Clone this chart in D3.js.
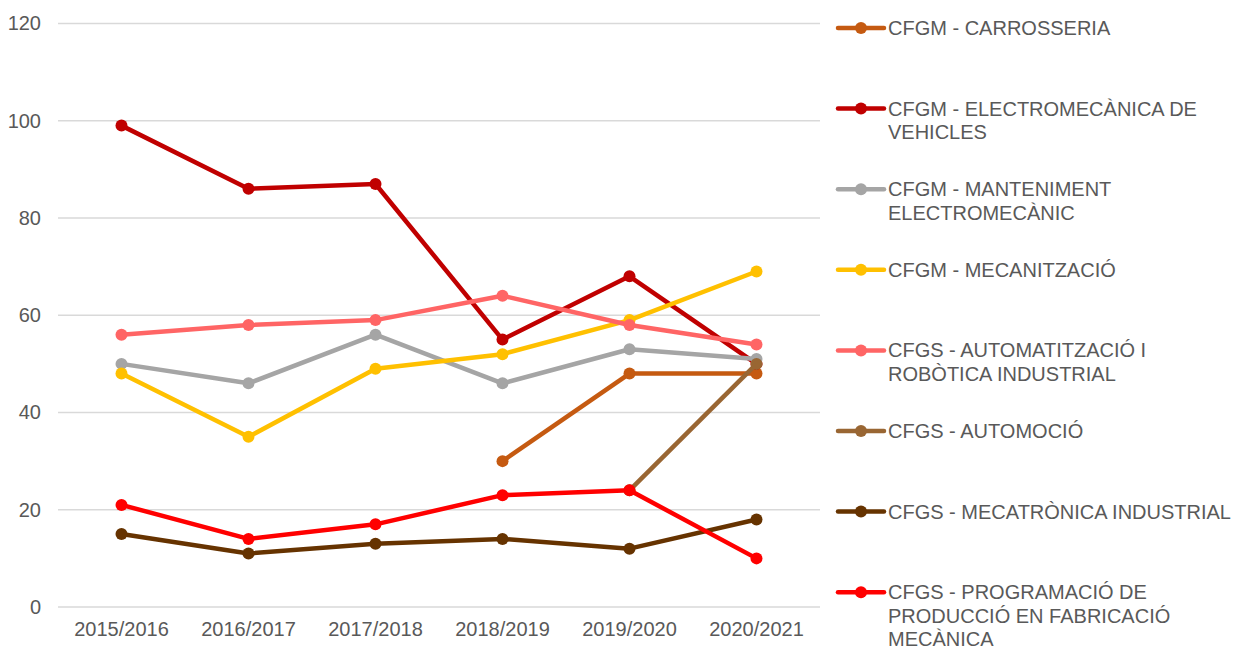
<!DOCTYPE html>
<html lang="en">
<head>
    <meta charset="UTF-8">
    <title>Line Chart</title>
    <style>
        body { margin: 0; background: #fff; }
        svg { font-family: "Liberation Sans", Arial, sans-serif; }
        .axis .domain, .axis .tick line { display: none; }
    </style>
</head>
<body>
    <svg width="1236" height="650"></svg>
    <script src="https://d3js.org/d3.v7.min.js"></script>
    <script>
        // data
        var years = ["2015/2016", "2016/2017", "2017/2018", "2018/2019", "2019/2020", "2020/2021"];
        var yTicks = [0, 20, 40, 60, 80, 100, 120];

        var carrosseria     = [null, null, null, 30, 48, 48];
        var electromecanica = [99, 86, 87, 55, 68, 50];
        var manteniment     = [50, 46, 56, 46, 53, 51];
        var mecanitzacio    = [48, 35, 49, 52, 59, 69];
        var automatitzacio  = [56, 58, 59, 64, 58, 54];
        var automocio       = [null, null, null, null, 24, 50];
        var mecatronica     = [15, 11, 13, 14, 12, 18];
        var programacio     = [21, 14, 17, 23, 24, 10];

        var series = [
            {name: ["CFGM - CARROSSERIA"], color: "#C55A11", values: carrosseria},
            {name: ["CFGM - ELECTROMECÀNICA DE", "VEHICLES"], color: "#C00000", values: electromecanica},
            {name: ["CFGM - MANTENIMENT", "ELECTROMECÀNIC"], color: "#A5A5A5", values: manteniment},
            {name: ["CFGM - MECANITZACIÓ"], color: "#FFC000", values: mecanitzacio},
            {name: ["CFGS - AUTOMATITZACIÓ I", "ROBÒTICA INDUSTRIAL"], color: "#FF6565", values: automatitzacio},
            {name: ["CFGS - AUTOMOCIÓ"], color: "#996633", values: automocio},
            {name: ["CFGS - MECATRÒNICA INDUSTRIAL"], color: "#663300", values: mecatronica},
            {name: ["CFGS - PROGRAMACIÓ DE", "PRODUCCIÓ EN FABRICACIÓ", "MECÀNICA"], color: "#FF0000", values: programacio}
        ];

        var svg = d3.select("svg"),
            margin = {top: 23.5, right: 416, bottom: 43, left: 58},
            width = +svg.attr("width") - margin.left - margin.right,
            height = +svg.attr("height") - margin.top - margin.bottom,
            g = svg.append("g").attr("transform", "translate(" + margin.left + "," + margin.top + ")");

        var x = d3.scaleBand().domain(years).range([0, width]);
        var y = d3.scaleLinear().domain([0, 120]).range([height, 0]);

        // gridlines
        g.append("g")
            .selectAll("line")
            .data(yTicks)
            .enter().append("line")
            .attr("x1", 0)
            .attr("x2", width)
            .attr("y1", function(d){ return y(d); })
            .attr("y2", function(d){ return y(d); })
            .attr("stroke", "#D9D9D9")
            .attr("stroke-width", 1.3);

        // axes
        g.append("g")
            .attr("class", "axis")
            .call(d3.axisLeft(y).tickValues(yTicks).tickSize(0).tickPadding(17))
            .selectAll("text")
            .attr("font-size", 20)
            .attr("font-family", "Liberation Sans, Arial, sans-serif")
            .attr("fill", "#595959");

        g.append("g")
            .attr("class", "axis")
            .attr("transform", "translate(0," + height + ")")
            .call(d3.axisBottom(x).tickSize(0).tickPadding(15))
            .selectAll("text")
            .attr("font-size", 20)
            .attr("font-family", "Liberation Sans, Arial, sans-serif")
            .attr("fill", "#595959");

        var line = d3.line()
            .defined(function(d){ return d != null; })
            .x(function(d, i){ return x(years[i]) + x.bandwidth() / 2; })
            .y(function(d){ return y(d); });

        var sg = g.append("g")
            .selectAll("g")
            .data(series)
            .enter().append("g");

        sg.append("path")
            .attr("d", function(d){ return line(d.values); })
            .attr("fill", "none")
            .attr("stroke", function(d){ return d.color; })
            .attr("stroke-width", 4.5)
            .attr("stroke-linejoin", "round");

        sg.selectAll("circle")
            .data(function(s){ return s.values.map(function(v, i){ return {v: v, i: i, color: s.color}; })
                .filter(function(p){ return p.v != null; }); })
            .enter().append("circle")
            .attr("cx", function(p){ return x(years[p.i]) + x.bandwidth() / 2; })
            .attr("cy", function(p){ return y(p.v); })
            .attr("r", 6)
            .attr("fill", function(p){ return p.color; });

        // legend
        var legend = svg.append("g")
            .attr("font-size", 20)
            .attr("fill", "#595959")
            .selectAll("g")
            .data(series)
            .enter().append("g")
            .attr("transform", function(d, i){ return "translate(838," + (28 + i * 80.6) + ")"; });

        legend.append("line")
            .attr("x1", 0).attr("x2", 46)
            .attr("stroke", function(d){ return d.color; })
            .attr("stroke-width", 4.5)
            .attr("stroke-linecap", "round");

        legend.append("circle")
            .attr("cx", 23)
            .attr("r", 6)
            .attr("fill", function(d){ return d.color; });

        legend.append("text")
            .attr("x", 50)
            .selectAll("tspan")
            .data(function(d){ return d.name; })
            .enter().append("tspan")
            .attr("x", 50)
            .attr("y", function(d, i){ return i * 23.6; })
            .attr("dy", "0.35em")
            .text(function(d){ return d; });
    </script>
</body>
</html>
